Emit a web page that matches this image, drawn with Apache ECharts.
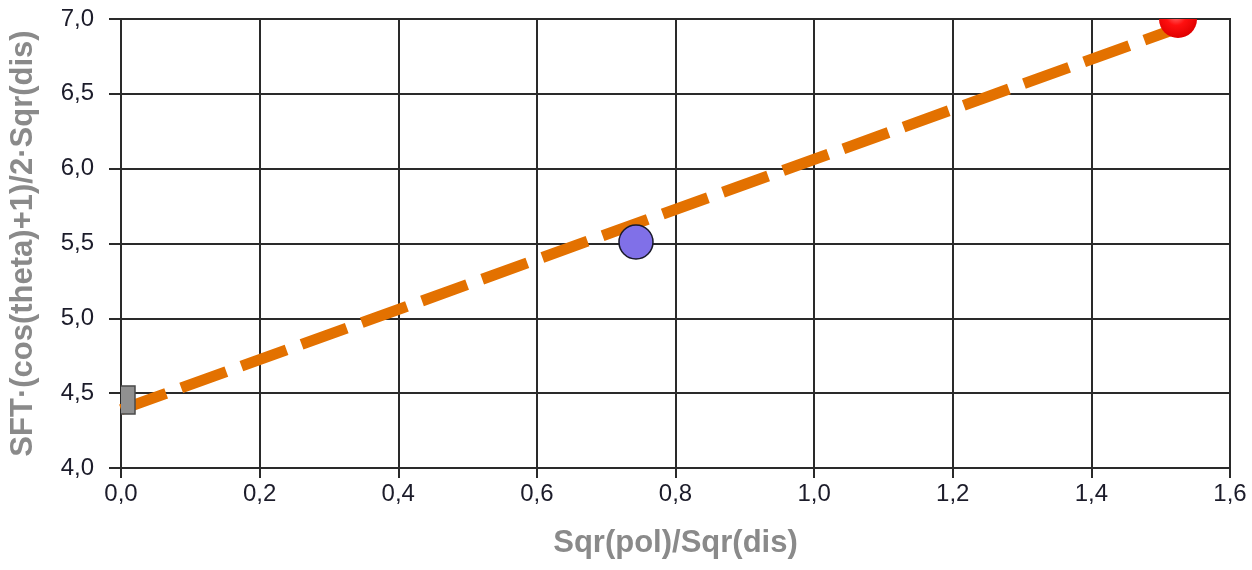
<!DOCTYPE html>
<html>
<head>
<meta charset="utf-8">
<script src="https://cdn.jsdelivr.net/npm/echarts@6/dist/echarts.min.js"></script>
<style>
html,body{margin:0;padding:0;background:#fff;}
#chart{width:1252px;height:570px;}
</style>
</head>
<body>
<div id="chart"></div>
<script>
// Data
const markerNames = ['Gray', 'Blue', 'Red'];
const markerX = [0.0, 0.743, 1.525];
const markerY = [4.455, 5.51, 7.0];
const fitX = [0.0, 1.525];
const fitY = [4.39, 6.94];
const xTitle = 'Sqr(pol)/Sqr(dis)';
const yTitle = 'SFT·(cos(theta)+1)/2·Sqr(dis)';

const chart = echarts.init(document.getElementById('chart'), null, {renderer: 'canvas'});
const fmt = v => v.toFixed(1).replace('.', ',');
const labelFont = {fontFamily: 'Liberation Sans, Arial, sans-serif', fontSize: 24, color: '#1c1c2a'};
const titleFont = {fontFamily: 'Liberation Sans, Arial, sans-serif', fontSize: 31, fontWeight: 'bold', color: '#8a8a8a'};

const markerStyles = [
  {kind: 'rect', size: 28, fill: '#909090', stroke: '#4a4a4a'},
  {kind: 'circle', size: 34, fill: '#8070e8', stroke: '#1a1a2a'},
  {kind: 'circle', size: 38, fill: {type: 'radial', x: 0.45, y: 0.4, r: 0.6,
      colorStops: [{offset: 0, color: '#ff7070'}, {offset: 0.45, color: '#ff1010'}, {offset: 1, color: '#e00000'}]}, stroke: 'none'}
];

chart.setOption({
  animation: false,
  grid: {left: 118, right: 22, top: 19, bottom: 102, show: true, borderColor: '#2a2a2a', borderWidth: 2},
  xAxis: {
    type: 'value', min: 0, max: 1.6, interval: 0.2,
    name: xTitle, nameLocation: 'middle', nameGap: 60, nameTextStyle: titleFont,
    axisLine: {show: true, onZero: false, lineStyle: {color: '#2a2a2a', width: 2}},
    axisTick: {show: true, length: 10, lineStyle: {color: '#2a2a2a', width: 2}},
    axisLabel: Object.assign({margin: 14, formatter: fmt}, labelFont),
    splitLine: {show: true, lineStyle: {color: '#2a2a2a', width: 2}}
  },
  yAxis: {
    type: 'value', min: 4, max: 7, interval: 0.5,
    name: yTitle, nameLocation: 'middle', nameGap: 82, nameTextStyle: titleFont,
    axisLine: {show: true, onZero: false, lineStyle: {color: '#2a2a2a', width: 2}},
    axisTick: {show: true, length: 12, lineStyle: {color: '#2a2a2a', width: 2}},
    axisLabel: Object.assign({margin: 27, formatter: fmt}, labelFont),
    splitLine: {show: true, lineStyle: {color: '#2a2a2a', width: 2}}
  },
  series: [
    {
      type: 'line',
      data: fitX.map((x, i) => [x, fitY[i]]),
      symbol: 'none',
      lineStyle: {color: '#e37100', width: 11, type: [48, 16], cap: 'butt'},
      z: 2
    },
    {
      type: 'custom',
      clip: true,
      data: markerX.map((x, i) => [x, markerY[i], i]),
      renderItem: function (params, api) {
        const p = api.coord([api.value(0), api.value(1)]);
        const st = markerStyles[api.value(2)];
        const h = st.size / 2;
        if (st.kind === 'rect') {
          return {type: 'rect', shape: {x: p[0] - h, y: p[1] - h, width: st.size, height: st.size},
            style: {fill: st.fill, stroke: st.stroke, lineWidth: 1.5}};
        }
        return {type: 'circle', shape: {cx: p[0], cy: p[1], r: h},
          style: {fill: st.fill, stroke: st.stroke === 'none' ? null : st.stroke, lineWidth: 1.5}};
      },
      z: 3
    }
  ]
});
</script>
</body>
</html>
